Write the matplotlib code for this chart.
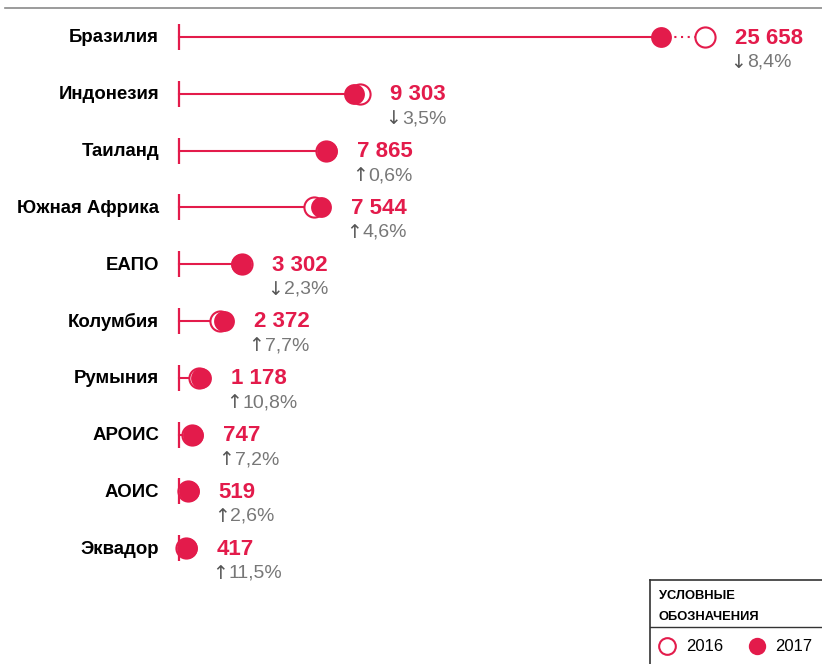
import numpy as np
import matplotlib.pyplot as plt

plt.rcParams['font.family'] = ['Liberation Sans', 'DejaVu Sans']

names = ['Бразилия', 'Индонезия', 'Таиланд', 'Южная Африка', 'ЕАПО',
         'Колумбия', 'Румыния', 'АРОИС', 'АОИС', 'Эквадор']
v2017 = [25658, 9303, 7865, 7544, 3302, 2372, 1178, 747, 519, 417]
v2016 = [28010, 9640, 7820, 7210, 3380, 2200, 1060, 700, 505, 375]
value_labels = ['25 658', '9 303', '7 865', '7 544', '3 302',
                '2 372', '1 178', '747', '519', '417']
arrows = ['↓', '↓', '↑', '↑', '↓', '↑', '↑', '↑', '↑', '↑']
change_labels = ['8,4%', '3,5%', '0,6%', '4,6%', '2,3%',
                 '7,7%', '10,8%', '7,2%', '2,6%', '11,5%']

RED = '#E31B4B'
GREY = '#777777'

W, H = 822, 664
fig = plt.figure(figsize=(W / 100, H / 100), dpi=100)
ax = fig.add_axes([0, 0, 1, 1])

# pixel scale: value 0 at x=179px, 25658 at x=661px
px_per_unit = (661 - 179) / 25658
ax.set_xlim(-179 / px_per_unit, (W - 179) / px_per_unit)
row_px = 56.8
ax.set_ylim((H - 37) / row_px, -37 / row_px)
ax.axis('off')

y = np.arange(len(names))
for i in range(len(names)):
    ax.plot([0, v2017[i]], [i, i], color=RED, lw=1.5, zorder=1)
    if v2016[i] > v2017[i]:
        ax.plot([v2017[i], v2016[i]], [i, i], color=RED, lw=1.5,
                ls=(0, (1, 2.2)), zorder=1)
ax.vlines(np.zeros(len(names)), y - 0.23, y + 0.23, color=RED, lw=1.6, zorder=1)

ax.plot(v2016, y, 'o', ls='none', ms=14.5, mfc='white', mec=RED, mew=1.5,
        zorder=2)
ax.plot(v2017, y, 'o', ls='none', ms=15, mfc=RED, mec=RED, mew=0, zorder=3)

for i in range(len(names)):
    right = max(v2016[i], v2017[i])
    ax.annotate(names[i], (0, i), xytext=(-20, -1), textcoords='offset pixels',
                ha='right', va='center', fontsize=13.4, fontweight='bold',
                color='black')
    ax.annotate(value_labels[i], (right, i), xytext=(30, -1),
                textcoords='offset pixels', ha='left', va='center',
                fontsize=16, fontweight='bold', color=RED)
    arr = ax.annotate(arrows[i], (right, i), xytext=(25, -25),
                      textcoords='offset pixels', ha='left', va='center',
                      fontsize=13.5, color='#555555', family='DejaVu Sans')
    ax.annotate(change_labels[i], (1, 0.5), xycoords=arr, xytext=(1, 0),
                textcoords='offset pixels', ha='left', va='center',
                fontsize=14, color=GREY)

# top rule
fig.add_artist(plt.Line2D([5 / W, 1], [1 - 8 / H, 1 - 8 / H], color='#8a8a8a',
                          lw=1.2, transform=fig.transFigure))

# legend box
lax = fig.add_axes([650 / W, 0, (W - 650) / W, 84 / H])
lax.set_xlim(0, 1)
lax.set_ylim(0, 1)
lax.set_xticks([])
lax.set_yticks([])
for s in ['right', 'bottom']:
    lax.spines[s].set_visible(False)
for s in ['top', 'left']:
    lax.spines[s].set_color('#333333')
    lax.spines[s].set_linewidth(1.2)
lax.axhline(37 / 84, color='#333333', lw=1.0)
lax.text(0.05, 0.81, 'УСЛОВНЫЕ', fontsize=9.3, fontweight='bold',
         ha='left', va='center')
lax.text(0.05, 0.56, 'ОБОЗНАЧЕНИЯ', fontsize=9.3, fontweight='bold',
         ha='left', va='center')
lax.plot([0.1], [0.214], 'o', ms=12, mfc='white', mec=RED, mew=1.5)
lax.plot([0.62], [0.214], 'o', ms=12.5, mfc=RED, mec=RED, mew=0)
lax.text(0.21, 0.214, '2016', fontsize=12, ha='left', va='center')
lax.text(0.725, 0.214, '2017', fontsize=12, ha='left', va='center')

fig.savefig('out.png', dpi=100)
